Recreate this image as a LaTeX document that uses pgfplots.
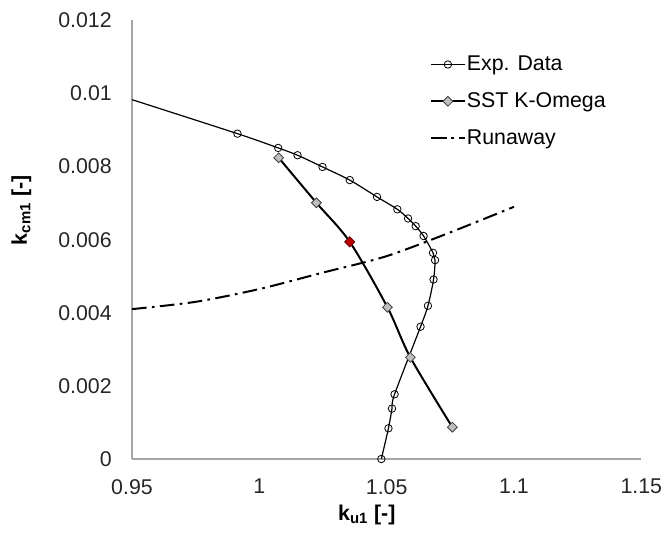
\documentclass[border=0pt]{standalone}
\usepackage{fontspec}
\setmainfont{Liberation Sans}
\usepackage{pgfplots}
\pgfplotsset{compat=1.18}
\definecolor{axisgray}{HTML}{A6A6A6}
\definecolor{markgray}{HTML}{BFBFBF}
\definecolor{edgegray}{HTML}{404040}
\definecolor{redpt}{HTML}{C00000}
\begin{document}
\begin{tikzpicture}
\begin{axis}[
  scale only axis, width=382pt, height=329pt,
  xmin=0.95, xmax=1.15, ymin=0, ymax=0.012,
  axis x line=bottom, axis y line=left,
  axis line style={axisgray, line width=1pt, -},
  xtick={0.95,1,1.05,1.1,1.15},
  ytick={0,0.002,0.004,0.006,0.008,0.01,0.012},
  major tick length=0pt,
  scaled y ticks=false, scaled x ticks=false,
  font=\fontsize{16}{19}\selectfont,
  /pgf/number format/assume math mode=true,
  xticklabel style={/pgf/number format/fixed, /pgf/number format/precision=2, inner sep=0pt, anchor=north, yshift=-15pt, text=black!85},
  yticklabel style={/pgf/number format/fixed, /pgf/number format/precision=3, inner sep=0pt, anchor=east, xshift=-15pt, text=black!85},
  xlabel={\textbf{k\textsubscript{u1} [-]}},
  ylabel={\textbf{k\textsubscript{cm1} [-]}},
  xlabel style={at={(rel axis cs:0.461,0)}, anchor=center, yshift=-42pt},
  ylabel style={at={(rel axis cs:0,0.567)}, anchor=center, yshift=83pt},
  legend style={at={(rel axis cs:0.585,0.922)}, anchor=north west, draw=none, fill=none,
    inner sep=0pt, row sep=13pt, nodes={inner sep=1pt, text=black}},
  legend cell align=left,
  legend image code/.code={\draw[mark repeat=2,mark phase=2,#1] plot coordinates {(0cm,0cm) (0.44cm,0cm) (0.88cm,0cm)};},
]
% Exp. Data (first point is the start of the curve at the axis edge, no marker)
\addplot[black, line width=0.9pt, smooth, mark=o, mark size=2.8pt, mark phase=2, mark repeat=1,
  mark options={fill=white, line width=0.6pt}] coordinates {
  (0.95,0.00983) (0.9914,0.00890) (1.0074,0.00851) (1.0150,0.00831)
  (1.0248,0.00799) (1.0355,0.00763) (1.0462,0.00717) (1.0542,0.00683) (1.0584,0.00658)
  (1.0614,0.00637) (1.0645,0.00610) (1.0682,0.00564) (1.0690,0.00544) (1.0684,0.00491)
  (1.0662,0.00419) (1.0633,0.00362) (1.0531,0.00177) (1.0521,0.00138) (1.0507,0.00084)
  (1.0479,0.0)};
\addlegendentry{Exp. Data}
% SST K-Omega
\addplot[black, line width=1.5pt, smooth, mark=square*, mark size=2.6pt,
  mark options={rotate=45, fill=markgray, draw=edgegray, line width=0.6pt}] coordinates {
  (1.0076,0.00824) (1.0224,0.00701) (1.0355,0.00594) (1.0503,0.00415) (1.0593,0.00278) (1.0758,0.00087)};
\addlegendentry{SST K-Omega}
% Runaway
\addplot[black, line width=1.5pt, smooth, dash pattern=on 11pt off 4pt on 2pt off 4pt] coordinates {
  (0.95,0.0041) (0.975,0.0043) (1.0,0.00465) (1.025,0.0051) (1.05,0.00555) (1.075,0.0062) (1.1,0.0069)};
\addlegendentry{Runaway}
% highlighted point
\addplot[only marks, mark=square*, mark size=2.6pt, forget plot,
  mark options={rotate=45, fill=redpt, draw=redpt!60!black, line width=0.6pt}] coordinates {(1.0355,0.00594)};
\end{axis}
\path (-99pt,-55.5pt) rectangle (400.5pt,344.25pt);
\end{tikzpicture}
\end{document}
